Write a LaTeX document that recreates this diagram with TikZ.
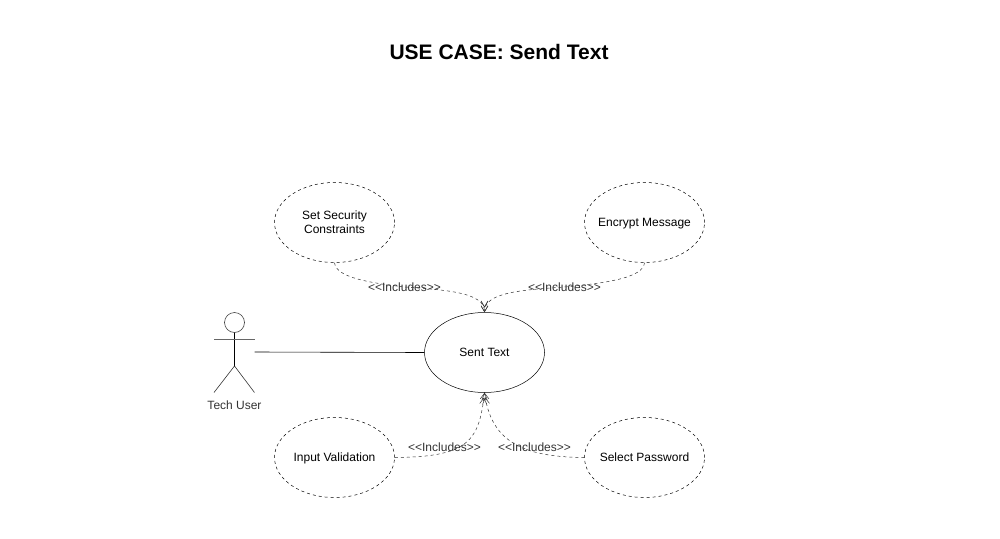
\documentclass[tikz,border=0pt]{standalone}
\usepackage{fontspec}
\setmainfont{Liberation Sans}
\usetikzlibrary{arrows.meta,shapes.geometric}
\definecolor{labelgray}{HTML}{333333}
\tikzset{
  x=1pt,y=-1pt,
  every node/.style={font=\fontsize{12}{14}\selectfont},
  sentcase/.style={draw,ellipse,minimum width=120pt,minimum height=80pt,inner sep=-25pt,align=center,line width=0.5pt},
  subcase/.style={sentcase,dash pattern=on 3pt off 3pt},
  rel/.style={draw=labelgray,line width=0.5pt,dash pattern=on 3pt off 3pt,-{Straight Barb[length=6pt,width=7pt,line width=0.5pt,sep=-2pt]Straight Barb[length=6pt,width=7pt,line width=0.5pt]}},
  rellabel/.style={text=labelgray,inner sep=0pt},
  stick/.style={draw=black,line width=0.6pt},
}
\begin{document}
\begin{tikzpicture}
\useasboundingbox (0,0) rectangle (1000,538);
\node[font=\bfseries\fontsize{21}{25}\selectfont] (title) at (499,52) {USE CASE: Send Text};
\node[sentcase] (sent) at (484.5,352.5) {Sent Text};
\node[subcase] (sec) at (334.5,222.5) {Set Security\\Constraints};
\node[subcase,text depth=0pt] (enc) at (644.5,222.5) {Encrypt Message};
\node[subcase,text depth=0pt] (inp) at (334.5,457.5) {Input Validation};
\node[subcase,text depth=0pt] (pwd) at (644.5,457.5) {Select Password};
% actor
\node[draw=black!75,circle,minimum size=20pt,inner sep=0pt,line width=0.6pt] (head) at (234.5,322.5) {};
\coordinate (hip) at (234.5,366);
\coordinate (armL) at (214,339);
\coordinate (armR) at (254.5,339);
\coordinate (footL) at (214,392.5);
\coordinate (footR) at (254.5,392.5);
\coordinate (hand) at (254.5,352);
\draw[stick] (head.south) -- (hip);
\draw[stick,draw=black!60] (armL) -- (armR);
\draw[stick,draw=black!80] (footL) -- (hip) -- (footR);
\node[text=labelgray] (actor) at (234.5,405.5) {Tech User};
\draw[line width=0.6pt] (hand) -- (sent.west);
% labels
\node[rellabel] (l1) at (404.5,287) {<{}<Includes>{}>};
\node[rellabel] (l2) at (564.5,287) {<{}<Includes>{}>};
\node[rellabel] (l3) at (444.5,447) {<{}<Includes>{}>};
\node[rellabel] (l4) at (534.5,447) {<{}<Includes>{}>};
% connectors
\draw[rel] (sec.south) .. controls (336,278) and (372,283) .. (l1.center) .. controls (445,290) and (484.5,292) .. (sent.north);
\draw[rel] (enc.south) .. controls (643,278) and (606,283) .. (l2.center) .. controls (523,290) and (484.5,292) .. (sent.north);
\draw[rel] (inp.east) .. controls (470,457) and (479,440) .. (sent.south);
\draw[rel] (pwd.west) .. controls (520,457) and (491,440) .. (sent.south);
\end{tikzpicture}
\end{document}
